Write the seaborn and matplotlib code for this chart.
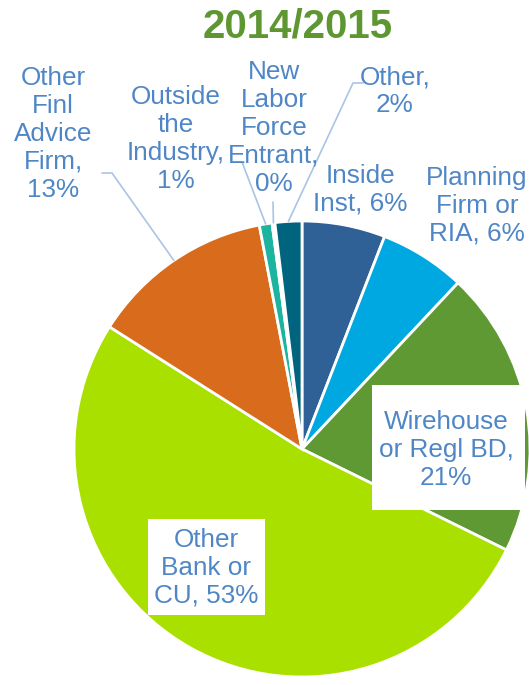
import numpy as np
import matplotlib.pyplot as plt
from matplotlib.patches import Rectangle
import seaborn as sns

# Data (shares, labels as shown)
labels = ["Inside\nInst, 6%", "Planning\nFirm or\nRIA, 6%", "Wirehouse\nor Regl BD,\n21%",
          "Other\nBank or\nCU, 53%", "Other\nFinl\nAdvice\nFirm,\n13%",
          "Outside\nthe\nIndustry,\n1%", "New\nLabor\nForce\nEntrant,\n0%", "Other,\n2%"]
shares = [5.9, 6.1, 20.3, 51.7, 13.0, 0.9, 0.2, 1.9]
colors = ["#2F6096", "#00A8E1", "#5F9933", "#A9E000", "#D86B1C", "#1CB49E", "#8FB3D9", "#00647F"]

sns.set_theme(style="white")
plt.rcParams["font.family"] = ["Liberation Sans", "DejaVu Sans"]

W, H = 529, 685
CX, CY, R = 302, 449, 228


def px(x, y):
    # picture pixels -> data units of the pie
    return (x - CX) / R, (CY - y) / R


fig = plt.figure(figsize=(W / 100, H / 100), dpi=100)
ax = fig.add_axes([0, 0, 1, 1])
wedges, _ = ax.pie(shares, colors=sns.color_palette(colors), startangle=90, counterclock=False,
                   wedgeprops=dict(edgecolor="white", linewidth=2))
ax.set_xlim(px(0, 0)[0], px(W, 0)[0])
ax.set_ylim(px(0, H)[1], px(0, 0)[1])
ax.set_aspect("equal")
ax.axis("off")

txt_col = "#4F86C6"
line_col = "#A9C4E4"

# label centres in picture pixels
label_pos = [(360, 190), (477, 206), (446, 450), (206, 568), (53, 134), (176, 139), (274, 128), (395, 91)]
# leader line start / elbow for the outside labels (None = inside label)
leaders = [None, None, None, None,
           [(102, 173), (112, 173)],
           [(233, 162), (242, 162)],
           [(273, 202)],
           [(363, 83), (353, 83)]]

# white boxes behind the in-slice labels
ax.add_patch(Rectangle(px(372, 510), 153 / R, 125 / R, facecolor="white", edgecolor="none", zorder=3))
ax.add_patch(Rectangle(px(148, 615), 117 / R, 96 / R, facecolor="white", edgecolor="none", zorder=3))

for w, lab, pos, ld in zip(wedges, labels, label_pos, leaders):
    x, y = px(*pos)
    ax.text(x, y, lab, ha="center", va="center", fontsize=18.8, color=txt_col,
            linespacing=1.2, zorder=4)
    if ld is not None:
        mid = np.deg2rad((w.theta1 + w.theta2) / 2)
        pts = [px(*p) for p in ld] + [(np.cos(mid), np.sin(mid))]
        xs, ys = zip(*pts)
        ax.plot(xs, ys, color=line_col, lw=1.2, zorder=2)

tx, ty = px(298, 27)
ax.text(tx, ty, "2014/2015", ha="center", va="center", fontsize=29, fontweight="bold", color="#5E9732")

fig.savefig("out.png", dpi=100)
